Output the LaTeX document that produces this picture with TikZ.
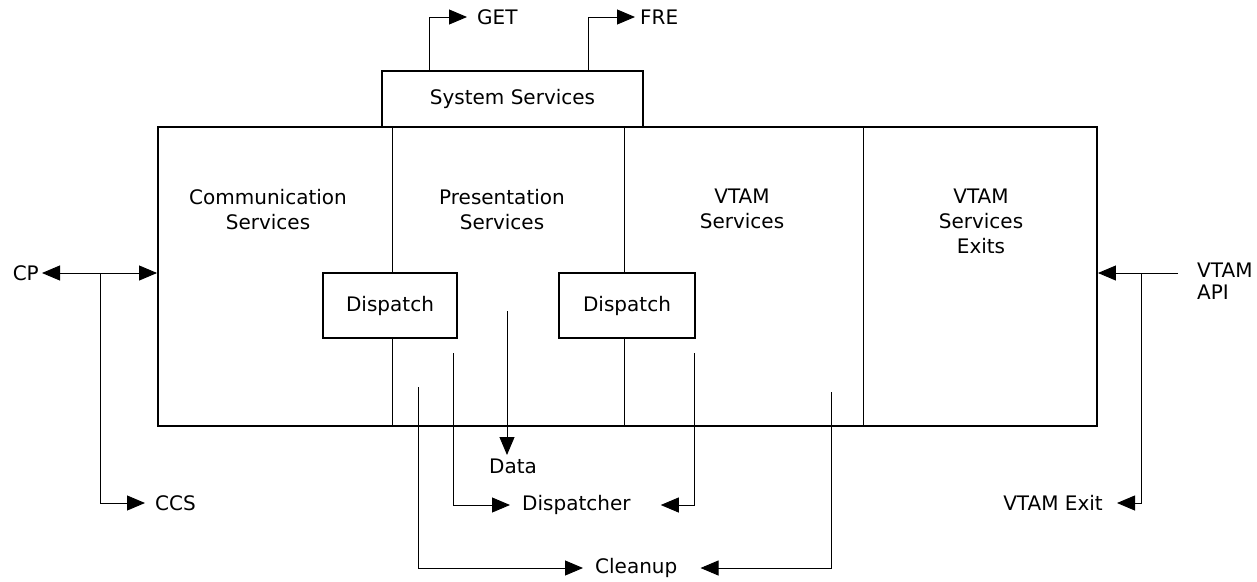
\documentclass[tikz,border=0pt]{standalone}
\usepackage{fontspec}
\setmainfont{DejaVu Sans}
\usetikzlibrary{arrows.meta,calc}
\begin{document}
\begin{tikzpicture}[x=1pt,y=-1pt,
  thinln/.style={line width=0.9pt},
  arr/.style={thinln,-{Triangle[length=18pt,width=15pt]}},
  lbl/.style={font=\fontsize{20}{25}\selectfont, inner sep=0pt},
  bigbox/.style={draw, line width=1.9pt, inner sep=0pt},
  dbox/.style={draw, line width=1.6pt, inner sep=0pt, font=\fontsize{20}{25}\selectfont},
  sbox/.style={draw, line width=1.1pt, inner sep=0pt, font=\fontsize{20}{25}\selectfont}]
\useasboundingbox (0,0) rectangle (1257,581);

% boxes
\node[bigbox, minimum width=939pt, minimum height=299pt] (main) at (627.5,276.5) {};
\node[sbox, minimum width=261pt, minimum height=56pt] (sys) at (512.5,99) {System Services};
\node[dbox, minimum width=134pt, minimum height=65pt] (d1) at (390,305.5) {Dispatch};
\node[dbox, minimum width=136pt, minimum height=65pt] (d2) at (627,305.5) {Dispatch};

% section titles
\node[lbl, align=center] (comm) at (268,210) {Communication\\Services};
\node[lbl, align=center] (pres) at (502,210) {Presentation\\Services};
\node[lbl, align=center] (vts) at (742,209) {VTAM\\Services};
\node[lbl, align=center] (vtx) at (981,221) {VTAM\\Services\\Exits};

% dividers
\coordinate (dv1) at (392,0);
\coordinate (dv2) at (624,0);
\coordinate (dv3) at (863,0);
\draw[thinln] (main.north -| dv1) -- (d1.north -| dv1);
\draw[thinln] (d1.south -| dv1) -- (main.south -| dv1);
\draw[thinln] (main.north -| dv2) -- (d2.north -| dv2);
\draw[thinln] (d2.south -| dv2) -- (main.south -| dv2);
\draw[thinln] (main.north -| dv3) -- (main.south -| dv3);

% outside labels
\node[lbl, anchor=east, inner xsep=3pt] (cp) at (42,273) {CP};
\node[lbl, anchor=west, inner xsep=10pt] (ccs) at (145,503) {CCS};
\node[lbl, anchor=west, inner xsep=10pt] (get) at (467,17) {GET};
\node[lbl, anchor=west, inner xsep=5pt] (fre) at (635,17) {FRE};
\node[lbl, anchor=north, inner ysep=4pt] (data) at (513,455) {Data};
\node[lbl, anchor=west, inner xsep=12pt] (disp) at (510,505) {Dispatcher};
\node[lbl, anchor=west, inner xsep=12pt] (clean) at (583,568) {Cleanup};
\node[lbl, anchor=east, inner xsep=14pt] (vexit) at (1117,503) {VTAM Exit};
\node[lbl, anchor=north west, inner xsep=19pt, align=left, font=\fontsize{20}{22}\selectfont] (api) at (1178,263) {VTAM\\API};

% CP / CCS
\coordinate (cpj) at (100,273);
\draw[arr] (cpj) -- (cp.east);
\draw[arr] (cpj) -- (cpj -| main.west);
\draw[arr] (cpj) |- (ccs.west);

% VTAM API / Exit
\coordinate (apij) at (1141,273);
\coordinate (apis) at (1178,273);
\draw[arr] (apis) -- (apis -| main.east);
\draw[arr] (apij) |- (vexit.east);

% GET / FRE
\coordinate (gx) at (429,0);
\coordinate (fx) at (588,0);
\draw[arr] (sys.north -| gx) |- (get.west);
\draw[arr] (sys.north -| fx) |- (fre.west);

% Data
\coordinate (dts) at (507,311);
\draw[arr] (dts) -- (dts |- data.north);

% Dispatcher
\coordinate (dpl) at (453,353);
\coordinate (dpr) at (694,353);
\draw[arr] (dpl) |- (disp.west);
\draw[arr] (dpr) |- ([xshift=18pt]disp.east);

% Cleanup
\coordinate (cll) at (418,387);
\coordinate (clr) at (831,392);
\draw[arr] (cll) |- (clean.west);
\draw[arr] (clr) |- ([xshift=11pt]clean.east);
\end{tikzpicture}
\end{document}
